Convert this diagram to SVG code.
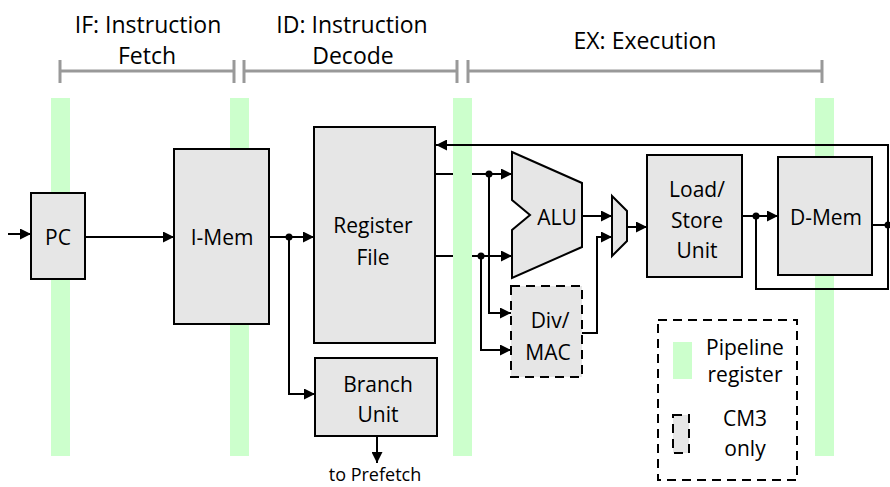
<svg xmlns="http://www.w3.org/2000/svg" width="890" height="487" viewBox="0 0 890 487">
<defs>
<marker id="arr" markerWidth="11" markerHeight="11" refX="11" refY="5.5" orient="auto" markerUnits="userSpaceOnUse">
<path d="M0,0 L11,5.5 L0,11 z" fill="#000"/>
</marker>
<style>
text{font-family:"Open Sans","Liberation Sans",sans-serif;fill:#000;text-anchor:middle}
.stage{font-size:23px}
.lbl{font-size:21px}
.small{font-size:18px}
.bk{stroke:#999;stroke-width:3;fill:none}
.bar{fill:#ccffcc}
.box{fill:#e6e6e6;stroke:#000;stroke-width:2}
.dbox{fill:#e6e6e6;stroke:#000;stroke-width:2;stroke-dasharray:9,6}
.ln{stroke:#000;stroke-width:2;fill:none}
.ar{stroke:#000;stroke-width:2;fill:none;marker-end:url(#arr)}
.dot{fill:#000}
</style>
</defs>
<rect width="890" height="487" fill="#fff"/>
<g id="stages">
<text class="stage" x="148" y="33">IF: Instruction</text>
<text class="stage" x="147" y="64">Fetch</text>
<text class="stage" x="352" y="33">ID: Instruction</text>
<text class="stage" x="353" y="64">Decode</text>
<text class="stage" x="645" y="49">EX: Execution</text>
<path class="bk" d="M60,71 H234 M60,60 V83 M234,60 V83 M244,71 H457 M244,60 V83 M457,60 V83 M468,71 H822 M468,60 V83 M822,60 V83"/>
</g>
<g id="pipeline-registers">
<rect class="bar" x="51" y="98" width="19" height="358"/>
<rect class="bar" x="230" y="98" width="19" height="358"/>
<rect class="bar" x="453" y="98" width="19" height="358"/>
<rect class="bar" x="815" y="98" width="19" height="358"/>
</g>
<g id="pc"><rect class="box" x="31" y="193" width="54" height="86"/><text class="lbl" x="58" y="245">PC</text></g>
<g id="imem"><rect class="box" x="174" y="149" width="95" height="175"/><text class="lbl" x="222" y="245">I-Mem</text></g>
<g id="regfile"><rect class="box" x="314" y="127" width="121" height="216"/><text class="lbl" x="373" y="233">Register</text><text class="lbl" x="373" y="265">File</text></g>
<g id="branch"><rect class="box" x="315" y="358" width="122" height="78"/><text class="lbl" x="378" y="392">Branch</text><text class="lbl" x="378" y="422">Unit</text></g>
<g id="alu"><polygon class="box" points="512,152 582,183 582,247 512,278 512,230 530,215 512,200"/><text class="lbl" x="557" y="225">ALU</text></g>
<g id="mux"><polygon class="box" points="612,196 627,211 627,241 612,256"/></g>
<g id="divmac"><rect class="dbox" x="511" y="286" width="71" height="91"/><text class="lbl" x="550" y="328">Div/</text><text class="lbl" x="548" y="360">MAC</text></g>
<g id="lsu"><rect class="box" x="647" y="155" width="95" height="122"/><text class="lbl" x="697" y="197">Load/</text><text class="lbl" x="697" y="228">Store</text><text class="lbl" x="697" y="258">Unit</text></g>
<g id="dmem"><rect class="box" x="778" y="157" width="94" height="118"/><text class="lbl" x="826" y="225">D-Mem</text></g>
<g id="legend">
<rect x="658" y="320" width="139" height="160" fill="none" stroke="#000" stroke-width="2" stroke-dasharray="9,6"/>
<rect class="bar" x="673" y="342" width="19" height="37"/>
<text class="lbl" x="745" y="355">Pipeline</text>
<text class="lbl" x="745" y="382">register</text>
<rect class="dbox" x="673" y="415" width="16" height="38"/>
<text class="lbl" x="745" y="426">CM3</text>
<text class="lbl" x="745" y="456">only</text>
</g>
<g id="connectors">
<path class="ar" d="M8,234 H31"/>
<path class="ar" d="M85,237 H174"/>
<path class="ar" d="M269,237 H314"/>
<path class="ar" d="M289,237 V394 H315"/>
<path class="ar" d="M377,436 V463"/>
<path class="ln" d="M435,174 H453"/>
<path class="ar" d="M472,174 H512"/>
<path class="ln" d="M435,256 H453"/>
<path class="ar" d="M472,256 H512"/>
<path class="ar" d="M489,174 V313 H511"/>
<path class="ar" d="M481,256 V350 H511"/>
<path class="ar" d="M582,216 H612"/>
<path class="ar" d="M582,333 H597 V237 H612"/>
<path class="ar" d="M627,227 H647"/>
<path class="ar" d="M742,216 H778"/>
<path class="ar" d="M756,216 V289 H888 V145 H436"/>
<path class="ln" d="M872,225 H888"/>
<circle class="dot" cx="289" cy="237" r="3.5"/>
<circle class="dot" cx="489" cy="174" r="3.5"/>
<circle class="dot" cx="481" cy="256" r="3.5"/>
<circle class="dot" cx="756" cy="216" r="3.5"/>
<circle class="dot" cx="888" cy="225" r="3.5"/>
<text class="small" x="375" y="481">to Prefetch</text>
</g>
</svg>
